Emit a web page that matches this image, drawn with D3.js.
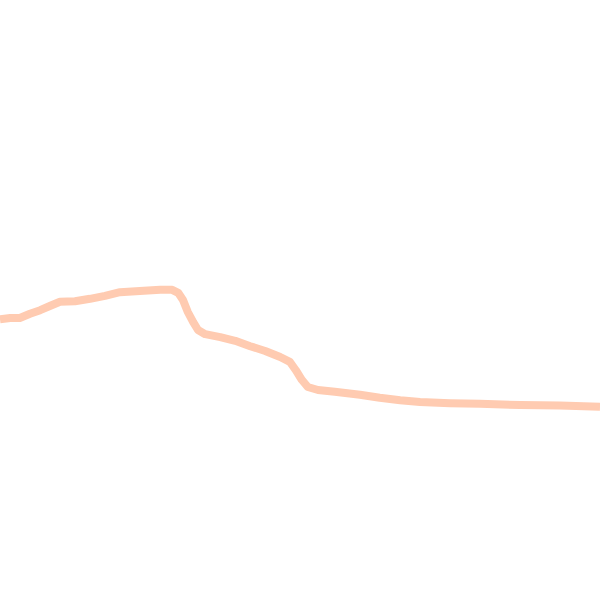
<!DOCTYPE html>
<html>
<head>
<meta charset="utf-8">
<script src="https://cdn.jsdelivr.net/npm/d3@7"></script>
<style>
  html, body { margin: 0; padding: 0; background: #fff; }
</style>
</head>
<body>
<div id="chart"></div>
<script>
// position along the series (0-100) and the value at that point (0-100)
const steps = [0, 1.7, 3.3, 5, 6.7, 8.3, 10, 12.5, 15, 17.5, 20, 23.3, 26.7, 28.7, 29.7,
  30.5, 31.3, 32.2, 33, 34.2, 36.7, 39.2, 41.7, 44.2, 46.7, 48.3, 49.3, 50.3, 51.3, 53,
  55.8, 60, 63.3, 66.7, 70, 75, 80, 86.7, 93.3, 100];
const values = [46.8, 47, 47, 47.7, 48.3, 49, 49.7, 49.8, 50.2, 50.7, 51.3, 51.5, 51.7, 51.7, 51.2,
  50, 48, 46.3, 45, 44.3, 43.8, 43.2, 42.3, 41.5, 40.5, 39.7, 38.3, 36.7, 35.5, 35,
  34.7, 34.2, 33.7, 33.3, 33, 32.8, 32.7, 32.5, 32.4, 32.2];

const data = steps.map((s, i) => ({ s: s, v: values[i] }));

const width = 600, height = 600;

const svg = d3.select("#chart")
  .append("svg")
  .attr("width", width)
  .attr("height", height);

const x = d3.scaleLinear().domain([0, 100]).range([0, width]);
const y = d3.scaleLinear().domain([0, 100]).range([height, 0]);

svg.append("path")
  .datum(data)
  .attr("fill", "none")
  .attr("stroke", "#ffcbb1")
  .attr("stroke-width", 8)
  .attr("stroke-linejoin", "round")
  .attr("d", d3.line()
    .x(d => x(d.s))
    .y(d => y(d.v)));
</script>
</body>
</html>
